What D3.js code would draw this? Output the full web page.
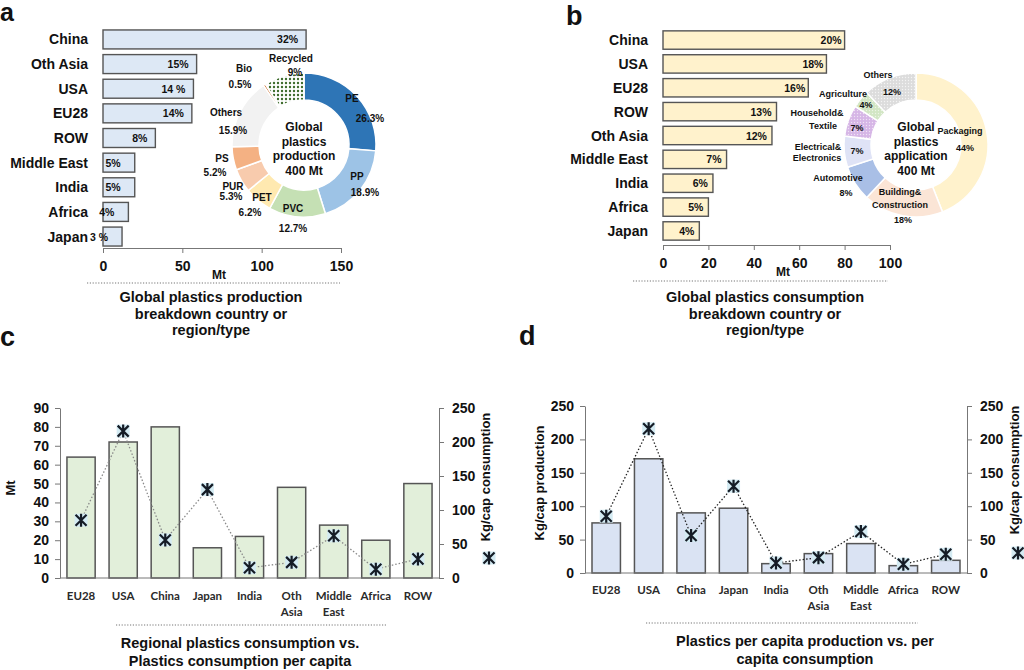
<!DOCTYPE html>
<html>
<head>
<meta charset="utf-8">
<script src="https://cdn.jsdelivr.net/npm/d3@7"></script>
<style>
  body { margin: 0; background: #fff; }
  svg { font-family: "Liberation Sans", Arial, sans-serif; font-weight: bold; }
  .axis path, .axis line { stroke: #777; }
  .axis text { fill: #111; font-weight: bold; font-family: "Liberation Sans", Arial, sans-serif; }
</style>
</head>
<body>
<script>
// ---- data ----
var prodRegions = ["China", "Oth Asia", "USA", "EU28", "ROW", "Middle East", "India", "Africa", "Japan"];
var prodMt = [128, 59, 57, 56, 33, 20, 20, 16, 12];
var prodPct = ["32%", "15%", "14 %", "14%", "8%", "5%", "5%", "4%", "3 %"];

var consRegions = ["China", "USA", "EU28", "ROW", "Oth Asia", "Middle East", "India", "Africa", "Japan"];
var consMt = [80, 72, 64, 50, 48, 28, 22, 20, 16];
var consPct = ["20%", "18%", "16%", "13%", "12%", "7%", "6%", "5%", "4%"];

var polyTypes = ["PE", "PP", "PVC", "PET", "PUR", "PS", "Others", "Bio", "Recycled"];
var polyShare = [26.3, 18.9, 12.7, 6.2, 5.3, 5.2, 15.9, 0.5, 9];
var polyPct = ["26.3%", "18.9%", "12.7%", "6.2%", "5.3%", "5.2%", "15.9%", "0.5%", "9%"];

var appTypes = ["Packaging", "Building& Construction", "Automotive", "Electrical& Electronics", "Household& Textile", "Agriculture", "Others"];
var appShare = [44, 18, 8, 7, 7, 4, 12];
var appPct = ["44%", "18%", "8%", "7%", "7%", "4%", "12%"];

var regionsCD = ["EU28", "USA", "China", "Japan", "India", "Oth Asia", "Middle East", "Africa", "ROW"];
var regionConsMt = [64, 72, 80, 16, 22, 48, 28, 20, 50];
var kgCapCons = [85, 216, 56, 130, 15, 23, 62, 13, 28];
var kgCapProd = [75, 171, 90, 97, 14, 29, 44, 11, 19];

var ticksA = [0, 50, 100, 150];
var ticksB = [0, 20, 40, 60, 80, 100];
var ticksCLeft = [0, 10, 20, 30, 40, 50, 60, 70, 80, 90];
var ticks250 = [0, 50, 100, 150, 200, 250];

// ---- svg ----
var svg = d3.select("body").append("svg")
    .attr("width", 1024)
    .attr("height", 670);

var defs = svg.append("defs");
function dotPattern(id, bg, dot, size, r) {
  var p = defs.append("pattern").attr("id", id)
      .attr("width", size).attr("height", size)
      .attr("patternUnits", "userSpaceOnUse");
  p.append("rect").attr("width", size).attr("height", size).attr("fill", bg);
  p.append("circle").attr("cx", size / 2).attr("cy", size / 2).attr("r", r).attr("fill", dot);
}
dotPattern("recyc", "#ffffff", "#3d6b2c", 4, 1.2);
dotPattern("othB", "#dcdcdc", "#f4f4f4", 3, 0.7);
dotPattern("house", "#d6b6e6", "#efe2f5", 3, 0.7);
dotPattern("agri", "#d2e6c4", "#ecf5e6", 3, 0.7);

function panelLetter(t, x, y, size) {
  svg.append("text").attr("x", x).attr("y", y).text(t)
    .attr("font-size", size).attr("font-weight", "bold").attr("fill", "#111");
}
panelLetter("a", 0, 21, 25);
panelLetter("b", 566, 25, 27);
panelLetter("c", 0, 346, 27);
panelLetter("d", 519, 345, 27);

function dottedRule(x1, x2, y) {
  svg.append("line").attr("x1", x1).attr("x2", x2).attr("y1", y).attr("y2", y)
    .attr("stroke", "#777").attr("stroke-width", 1.2).attr("stroke-dasharray", "1.2,1.6");
}
function titleLines(lines, x, y0, lh, size) {
  var t = svg.append("text").attr("text-anchor", "middle").attr("font-size", size).attr("fill", "#111");
  lines.forEach(function(l, i) {
    t.append("tspan").attr("x", x).attr("y", y0 + i * lh).text(l);
  });
}

// ---- horizontal bar panels (a, b) ----
function hBars(opt) {
  var x = d3.scaleLinear().domain([0, opt.max]).range([opt.x0, opt.x1]);
  var y = d3.scaleBand().domain(opt.cats).range([opt.y0, opt.y1]).paddingInner(0.23).paddingOuter(0.12);

  svg.append("g").attr("class", "axis")
      .attr("transform", "translate(0," + opt.axisY + ")")
      .call(d3.axisBottom(x).tickValues(opt.ticks).tickSize(5).tickSizeOuter(0).tickPadding(8))
      .call(function(g) { g.selectAll("text").attr("font-size", 14); });

  svg.append("g").selectAll("rect")
      .data(opt.vals).enter().append("rect")
      .attr("x", x(0))
      .attr("y", function(d, i) { return y(opt.cats[i]); })
      .attr("width", function(d) { return x(d) - x(0); })
      .attr("height", y.bandwidth())
      .attr("fill", opt.fill)
      .attr("stroke", "#555")
      .attr("stroke-width", 1.4);

  svg.append("g").selectAll("text")
      .data(opt.cats).enter().append("text")
      .attr("x", opt.x0 - 15)
      .attr("y", function(d) { return y(d) + y.bandwidth() / 2 + 5; })
      .attr("text-anchor", "end")
      .attr("font-size", 14)
      .attr("fill", "#111")
      .text(function(d) { return d; });

  svg.append("g").selectAll("text")
      .data(opt.vals).enter().append("text")
      .attr("x", function(d) { return x(d) - opt.pad(d); })
      .attr("y", function(d, i) { return y(opt.cats[i]) + y.bandwidth() / 2 + 4; })
      .attr("text-anchor", "end")
      .attr("font-size", 10.5)
      .attr("fill", "#111")
      .text(function(d, i) { return opt.pct[i]; });

  svg.append("text").attr("x", opt.mtX).attr("y", opt.axisY + 31)
    .attr("text-anchor", "middle").attr("font-size", 12).attr("fill", "#111").text("Mt");
}

hBars({cats: prodRegions, vals: prodMt, pct: prodPct, max: 150, ticks: ticksA,
  x0: 103, x1: 341, y0: 27, y1: 249, axisY: 248, fill: "#dde8f5", mtX: 219,
  pad: function(d) { return d > 30 ? 8 : 14; }});
hBars({cats: consRegions, vals: consMt, pct: consPct, max: 100, ticks: ticksB,
  x0: 663, x1: 890, y0: 28, y1: 243, axisY: 245, fill: "#fff2cc", mtX: 783,
  pad: function(d) { return d > 60 ? 3 : 5; }});

dottedRule(87, 340, 283);
titleLines(["Global plastics production", "breakdown country or", "region/type"], 211, 302, 16.5, 14.5);
dottedRule(633, 888, 281);
titleLines(["Global plastics consumption", "breakdown country or", "region/type"], 765, 302, 16.5, 14.5);

// ---- donuts ----
function donut(opt) {
  var g = svg.append("g").attr("transform", "translate(" + opt.cx + "," + opt.cy + ")");
  var pie = d3.pie().sort(null).value(function(d) { return d; });
  var arc = d3.arc().innerRadius(opt.ri).outerRadius(opt.ro);
  var arcs = pie(opt.vals);
  g.selectAll("path").data(arcs).enter().append("path")
      .attr("d", arc)
      .attr("fill", function(d, i) { return opt.colors[i]; })
      .attr("stroke", "#fff")
      .attr("stroke-width", 1.5);

  var lab = g.append("g").attr("fill", "#111").attr("font-size", opt.fs).attr("text-anchor", "middle");
  opt.labels.forEach(function(lines) {
    lines.forEach(function(l) {
      lab.append("text").attr("x", l[1]).attr("y", l[2] + opt.fs * 0.35).text(l[0]);
    });
  });

  var c = g.append("text").attr("text-anchor", "middle").attr("font-size", 12).attr("fill", "#111");
  opt.center.forEach(function(t, i) {
    c.append("tspan").attr("x", 0).attr("y", -18 + i * 14.5 + 4).text(t);
  });
}

// label layout (offsets from donut centre)
var polyLabelPos = [
  [[0, 48, -47], [1, 66, -27]],
  [[0, 53, 31], [1, 61, 47]],
  [[0, -11, 63], [1, -11, 83]],
  [[0, -42, 52], [1, -54, 67]],
  [[0, -71, 41], [1, -73, 51]],
  [[0, -82, 13], [1, -89, 27]],
  [[0, -78, -33], [1, -71, -15]],
  [[0, -60, -77], [1, -64, -61]],
  [[0, -13, -87], [1, -9, -73]]
];
var polyLabels = polyLabelPos.map(function(p, i) {
  return p.map(function(q) { return [q[0] === 0 ? polyTypes[i] : polyPct[i], q[1], q[2]]; });
});

donut({cx: 304, cy: 145, ri: 45, ro: 72, vals: polyShare,
  colors: ["#2e75b6", "#9dc3e6", "#c5e0b4", "#ffe9b0", "#f8cbad", "#f4b183", "#f2f2f2", "#c55a11", "url(#recyc)"],
  fs: 10, labels: polyLabels, center: ["Global", "plastics", "production", "400 Mt"]});

var appLabelPos = [
  [[44, -14], [49, 3]],
  [[-16, 47], [-16, 60], [-13, 75]],
  [[-78, 33], [-70, 48]],
  [[-98, 2], [-99, 13], [-59, 6]],
  [[-99, -32], [-93, -19], [-59, -17]],
  [[-73, -51], [-50, -40]],
  [[-38, -70], [-24, -53]]
];
var appLabels = appLabelPos.map(function(p, i) {
  var words = appTypes[i].split(" ");
  var texts = words.concat([appPct[i]]);
  return p.map(function(q, k) { return [texts[k], q[0], q[1]]; });
});

donut({cx: 916, cy: 145, ri: 45, ro: 72, vals: appShare,
  colors: ["#fff2cc", "#fbe5d6", "#a9bfe6", "#dfe3f6", "url(#house)", "url(#agri)", "url(#othB)"],
  fs: 9, labels: appLabels, center: ["Global", "plastics", "application", "400 Mt"]});

// ---- column + marker panels (c, d) ----
function starMarker(g, x, y) {
  var m = g.append("g").attr("transform", "translate(" + x + "," + y + ")");
  m.append("rect").attr("x", -6.5).attr("y", -6.5).attr("width", 13).attr("height", 13).attr("fill", "#d4ebf3");
  m.append("path").attr("d", "M-5.5,-5.5L5.5,5.5M-5.5,5.5L5.5,-5.5M0,-6.5L0,6.5")
    .attr("stroke", "#151c26").attr("stroke-width", 2.2).attr("fill", "none");
}

function comboPanel(opt) {
  var x = d3.scaleBand().domain(regionsCD).range([opt.x0, opt.x1]).paddingInner(0.33).paddingOuter(0.165);
  var yL = d3.scaleLinear().domain([0, opt.leftMax]).range([opt.yBot, opt.yTop]);
  var yR = d3.scaleLinear().domain([0, 250]).range([opt.yBot, opt.yTop]);

  svg.append("g").selectAll("rect")
      .data(opt.bars).enter().append("rect")
      .attr("x", function(d, i) { return x(regionsCD[i]); })
      .attr("y", function(d) { return yL(d); })
      .attr("width", x.bandwidth())
      .attr("height", function(d) { return yL(0) - yL(d); })
      .attr("fill", opt.fill)
      .attr("stroke", "#555")
      .attr("stroke-width", 1.5);

  var ax = svg.append("g").attr("class", "axis")
      .attr("transform", "translate(" + opt.x0 + ",0)")
      .call(d3.axisLeft(yL).tickValues(opt.leftTicks).tickSize(5).tickSizeOuter(0).tickPadding(6));
  ax.selectAll("text").attr("font-size", 14);
  var axR = svg.append("g").attr("class", "axis")
      .attr("transform", "translate(" + opt.x1 + ",0)")
      .call(d3.axisRight(yR).tickValues(ticks250).tickSize(5).tickSizeOuter(0).tickPadding(8));
  axR.selectAll("text").attr("font-size", 14);
  svg.append("line").attr("x1", opt.x0).attr("x2", opt.x1).attr("y1", opt.yBot).attr("y2", opt.yBot)
    .attr("stroke", "#777");

  var line = d3.line()
      .x(function(d, i) { return x(regionsCD[i]) + x.bandwidth() / 2; })
      .y(function(d) { return yR(d); });
  svg.append("path").datum(kgCapCons)
      .attr("d", line)
      .attr("fill", "none")
      .attr("stroke", opt.lineColor)
      .attr("stroke-width", 1.3)
      .attr("stroke-dasharray", "1.5,2");

  var mg = svg.append("g");
  kgCapCons.forEach(function(d, i) {
    starMarker(mg, x(regionsCD[i]) + x.bandwidth() / 2, yR(d));
  });

  var cat = svg.append("g").attr("font-family", "Lato, 'Open Sans', sans-serif")
      .attr("font-size", 11.5).attr("fill", "#2a2a2a").attr("text-anchor", "middle");
  regionsCD.forEach(function(r) {
    var words = r.split(" ");
    words.forEach(function(w, k) {
      cat.append("text")
        .attr("x", x(r) + x.bandwidth() / 2)
        .attr("y", opt.yBot + opt.catDy + k * 15.5)
        .text(w);
    });
  });

  svg.append("text")
    .attr("transform", "translate(" + opt.leftTitleX + "," + opt.leftTitleY + ") rotate(-90)")
    .attr("text-anchor", "middle").attr("font-size", opt.leftTitleSize).attr("fill", "#111")
    .text(opt.leftTitle);
  svg.append("text")
    .attr("transform", "translate(" + opt.rightTitleX + "," + opt.rightTitleY + ") rotate(-90)")
    .attr("text-anchor", "middle").attr("font-size", 13).attr("fill", "#111")
    .text("Kg/cap consumption");
  starMarker(svg, opt.rightTitleX - 1, opt.legendY);
}

comboPanel({x0: 60, x1: 439, yBot: 578, yTop: 408, leftMax: 90, leftTicks: ticksCLeft,
  bars: regionConsMt, fill: "#e2efda", lineColor: "#8a8a8a", catDy: 22,
  leftTitle: "Mt", leftTitleX: 15, leftTitleY: 488, leftTitleSize: 13,
  rightTitleX: 490, rightTitleY: 477, legendY: 558});

comboPanel({x0: 585, x1: 967, yBot: 573, yTop: 406, leftMax: 250, leftTicks: ticks250,
  bars: kgCapProd, fill: "#dae3f3", lineColor: "#222", catDy: 21,
  leftTitle: "Kg/cap production", leftTitleX: 544, leftTitleY: 483, leftTitleSize: 13,
  rightTitleX: 1019, rightTitleY: 470, legendY: 553});

dottedRule(116, 387, 625);
titleLines(["Regional plastics consumption vs.", "Plastics consumption per capita"], 240, 648, 18, 14.5);
dottedRule(646, 918, 623);
titleLines(["Plastics per capita production vs. per", "capita consumption"], 805, 646, 18, 14.5);
</script>
</body>
</html>
